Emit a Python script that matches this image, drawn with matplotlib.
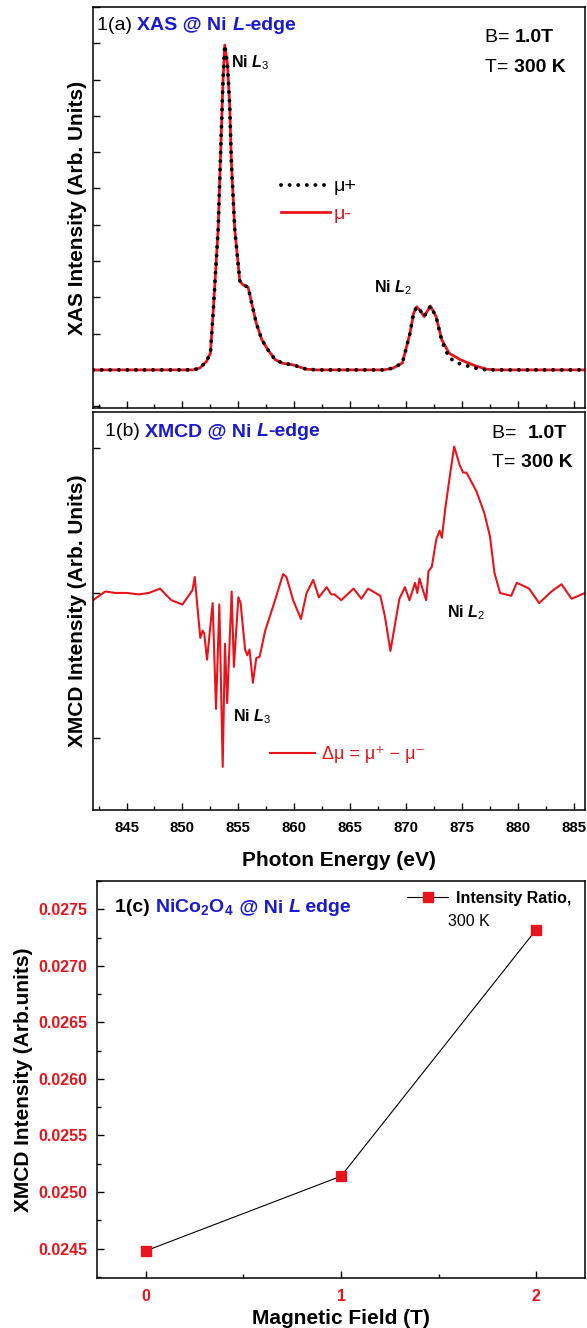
import matplotlib
matplotlib.use('Agg')
import matplotlib.pyplot as plt
from matplotlib.offsetbox import TextArea, HPacker, AnchoredOffsetbox
from matplotlib.ticker import MultipleLocator, FixedLocator, NullFormatter

plt.rcParams['font.family'] = ['Liberation Sans', 'DejaVu Sans']
plt.rcParams['mathtext.fontset'] = 'custom'
plt.rcParams['mathtext.rm'] = 'Liberation Sans'
plt.rcParams['mathtext.it'] = 'Liberation Sans:italic:bold'
plt.rcParams['mathtext.bf'] = 'Liberation Sans:bold'

RED = '#e8141c'
BLUE = '#1a1ad2'

# ---------------- data: panel (a) XAS ----------------
xas_energy = [842.0, 843.0, 844.0, 845.0, 846.0, 847.0, 848.0, 849.0, 850.0, 850.96,
              851.55, 852.14, 852.5, 852.74, 853.19, 853.48, 853.63, 853.78, 854.02, 854.23,
              854.38, 854.68, 855.13, 855.4, 855.87, 856.6, 857.1, 857.65, 858.3, 858.99,
              859.88, 861.07, 862.0, 863.0, 864.0, 865.0, 866.0, 867.0, 868.0, 868.84,
              869.67, 870.34, 870.68, 870.95, 871.3, 871.61, 871.9, 872.18, 872.68, 873.19,
              873.85, 874.86, 876.2, 877.2, 878.0, 879.0, 880.0, 881.0, 882.0, 883.0,
              884.0, 885.0, 886.0]
xas_mu_minus = [0.0, 0.0, 0.0, 0.0, 0.0, 0.0, 0.0, 0.0, 0.0, 0.0,
                0.05, 0.23, 0.46, 1.56, 3.86, 6.61, 7.99, 8.95, 8.45, 7.25,
                5.69, 3.86, 2.45, 2.35, 2.28, 1.29, 0.83, 0.55, 0.28, 0.18,
                0.14, 0.02, 0.0, 0.0, 0.0, 0.0, 0.0, 0.0, 0.0, 0.05,
                0.19, 1.0, 1.57, 1.74, 1.62, 1.47, 1.62, 1.76, 1.47, 0.83,
                0.46, 0.28, 0.11, 0.02, 0.0, 0.0, 0.0, 0.0, 0.0, 0.0,
                0.0, 0.0, 0.0]
xas_mu_plus = [0.0, 0.0, 0.0, 0.0, 0.0, 0.0, 0.0, 0.0, 0.0, 0.0,
               0.05, 0.23, 0.46, 1.56, 3.86, 6.61, 7.99, 8.95, 8.45, 7.25,
               5.69, 3.86, 2.45, 2.35, 2.28, 1.29, 0.83, 0.55, 0.28, 0.18,
               0.14, 0.02, 0.0, 0.0, 0.0, 0.0, 0.0, 0.0, 0.0, 0.05,
               0.19, 1.0, 1.57, 1.74, 1.62, 1.47, 1.62, 1.76, 1.47, 0.80,
               0.33, 0.16, 0.05, 0.0, 0.0, 0.0, 0.0, 0.0, 0.0, 0.0,
               0.0, 0.0, 0.0]

# ---------------- data: panel (b) XMCD ----------------
xmcd_energy = [842.0, 843.1, 844.0, 845.0, 846.1, 847.0, 848.0, 849.0, 850.0, 850.9,
               851.1, 851.4, 851.6, 851.8, 851.95, 852.2, 852.7, 853.0, 853.3, 853.6,
               853.8, 854.0, 854.4, 854.6, 855.0, 855.2, 855.6, 855.8, 856.0, 856.3,
               856.6, 856.9, 857.4, 858.2, 859.0, 859.3, 859.9, 860.6, 861.1, 861.7,
               862.2, 862.9, 863.3, 863.6, 864.2, 865.3, 866.0, 866.6, 867.7, 868.1,
               868.6, 869.4, 869.9, 870.3, 870.8, 871.0, 871.2, 871.5, 871.8, 872.0,
               872.3, 872.7, 873.0, 873.2, 873.5, 873.9, 874.3, 874.8, 875.1, 875.4,
               876.3, 877.0, 877.5, 877.9, 878.4, 879.4, 879.9, 881.0, 881.9, 883.0,
               883.9, 884.8, 886.0]
xmcd_signal = [-0.05, 0.01, 0.0, 0.0, -0.01, 0.0, 0.03, -0.05, -0.08, 0.02,
               0.11, -0.15, -0.31, -0.26, -0.28, -0.46, -0.07, -0.80, -0.08, -1.20,
               -0.35, -0.76, 0.01, -0.51, -0.03, -0.07, -0.39, -0.43, -0.39, -0.62,
               -0.45, -0.44, -0.26, -0.07, 0.13, 0.11, -0.05, -0.18, 0.0, 0.09,
               -0.03, 0.04, -0.01, -0.01, -0.05, 0.03, -0.04, 0.03, -0.02, -0.16,
               -0.40, -0.04, 0.04, -0.05, 0.07, 0.0, 0.10, 0.02, -0.05, 0.15,
               0.18, 0.37, 0.43, 0.38, 0.58, 0.80, 1.01, 0.88, 0.83, 0.83,
               0.70, 0.55, 0.39, 0.14, 0.0, -0.02, 0.07, 0.03, -0.07, 0.01,
               0.06, -0.04, 0.0]

# ---------------- data: panel (c) ----------------
field_T = [0, 1, 2]
ratio = [0.02448, 0.02514, 0.02732]
field_ticks = [0, 1, 2]
ratio_ticks = [0.0245, 0.0250, 0.0255, 0.0260, 0.0265, 0.0270, 0.0275]

W, H = 587, 1328
fig = plt.figure(figsize=(W / 100, H / 100), dpi=100)

def fr(l, t, r, b):
    return [l / W, 1 - b / H, (r - l) / W, (b - t) / H]

axa = fig.add_axes(fr(93, 7, 585, 408))
axb = fig.add_axes(fr(93, 412, 585, 810))
axc = fig.add_axes(fr(97, 881, 585, 1278))

for ax in (axa, axb, axc):
    for s in ax.spines.values():
        s.set_linewidth(1.1)
    ax.tick_params(which='both', direction='in', top=False, right=False, width=1.0)
    ax.tick_params(which='major', length=5)
    ax.tick_params(which='minor', length=3)


def rich(ax, parts, xy, loc='center left', size=14):
    boxes = []
    for txt, color, weight, style in parts:
        boxes.append(TextArea(txt, textprops=dict(color=color, fontweight=weight,
                                                  fontstyle=style, fontsize=size)))
    pack = HPacker(children=boxes, align='baseline', pad=0, sep=0)
    ab = AnchoredOffsetbox(loc=loc, child=pack, bbox_to_anchor=xy,
                           bbox_transform=ax.transAxes, frameon=False,
                           pad=0, borderpad=0)
    ax.add_artist(ab)

XLIM = (842.0, 886.0)

# ---------------- panel (a) ----------------
l_minus, = axa.plot(xas_energy, xas_mu_minus, color=RED, lw=2.0, zorder=2)
l_plus, = axa.plot(xas_energy, xas_mu_plus, color='black', lw=2.8,
                   ls=(0, (0.01, 2.2)), dash_capstyle='round', zorder=3)
axa.set_xlim(*XLIM)
axa.set_ylim(-1.05, 10.0)
axa.xaxis.set_major_locator(MultipleLocator(5))
axa.xaxis.set_minor_locator(MultipleLocator(2.5))
axa.yaxis.set_major_locator(MultipleLocator(1))
axa.xaxis.set_major_formatter(NullFormatter())
axa.yaxis.set_major_formatter(NullFormatter())
axa.set_ylabel('XAS Intensity (Arb. Units)', fontsize=15, fontweight='bold')
axa.yaxis.set_label_coords(-0.013, 0.5)
leg = axa.legend(handles=[l_plus, l_minus], labels=['μ+', 'μ-'], loc='upper left',
                 bbox_to_anchor=(0.382, 0.574), frameon=False, fontsize=14,
                 handlelength=2.5, handletextpad=0.2, labelspacing=0.5,
                 borderpad=0, borderaxespad=0)
leg.get_texts()[1].set_color(RED)

rich(axa, [('1(a) ', 'black', 'normal', 'normal'), ('XAS @ Ni ', BLUE, 'bold', 'normal'),
           ('L', BLUE, 'bold', 'italic'), ('-edge', BLUE, 'bold', 'normal')], (0.008, 0.955))
rich(axa, [('B= ', 'black', 'normal', 'normal'), ('1.0T', 'black', 'bold', 'normal')], (0.797, 0.925))
rich(axa, [('T= ', 'black', 'normal', 'normal'), ('300 K', 'black', 'bold', 'normal')], (0.797, 0.848))
axa.text(854.35, 8.48, r'$\mathbf{Ni}\ \mathit{L}_{\mathit{3}}$', fontsize=11.5, ha='left', va='center')
axa.text(867.1, 2.26, r'$\mathbf{Ni}\ \mathit{L}_{\mathit{2}}$', fontsize=11.5, ha='left', va='center')

# ---------------- panel (b) ----------------
l_dm, = axb.plot(xmcd_energy, xmcd_signal, color=RED, lw=1.5)
axb.set_xlim(*XLIM)
axb.set_ylim(-1.497, 1.248)
axb.xaxis.set_major_locator(MultipleLocator(5))
axb.xaxis.set_minor_locator(MultipleLocator(2.5))
axb.yaxis.set_major_locator(FixedLocator([-1, 0, 1]))
axb.yaxis.set_major_formatter(NullFormatter())
axb.tick_params(axis='x', labelsize=10.8, pad=8)
for t in axb.get_xticklabels():
    t.set_fontweight('bold')
axb.set_xlabel('Photon Energy (eV)', fontsize=15, fontweight='bold')
axb.xaxis.set_label_coords(0.5, -0.103)
axb.set_ylabel('XMCD Intensity (Arb. Units)', fontsize=15, fontweight='bold')
axb.yaxis.set_label_coords(-0.013, 0.5)
legb = axb.legend(handles=[l_dm], labels=['Δμ = μ⁺ − μ⁻'], loc='upper left',
                  bbox_to_anchor=(0.36, 0.16), frameon=False, fontsize=13,
                  handlelength=2.5, handletextpad=0.4, borderpad=0, borderaxespad=0)
legb.get_texts()[0].set_color(RED)
rich(axb, [('1(b) ', 'black', 'normal', 'normal'), ('XMCD @ Ni ', BLUE, 'bold', 'normal'),
           ('L', BLUE, 'bold', 'italic'), ('-edge', BLUE, 'bold', 'normal')], (0.024, 0.950))
rich(axb, [('B=  ', 'black', 'normal', 'normal'), ('1.0T', 'black', 'bold', 'normal')], (0.811, 0.947))
rich(axb, [('T= ', 'black', 'normal', 'normal'), ('300 K', 'black', 'bold', 'normal')], (0.811, 0.872))
axb.text(854.5, -0.855, r'$\mathbf{Ni}\ \mathit{L}_{\mathit{3}}$', fontsize=11.5, ha='left', va='center')
axb.text(873.7, -0.138, r'$\mathbf{Ni}\ \mathit{L}_{\mathit{2}}$', fontsize=11.5, ha='left', va='center')

# ---------------- panel (c) ----------------
l_c, = axc.plot(field_T, ratio, color='black', lw=0.8, marker='s', markersize=6.5,
                markerfacecolor=RED, markeredgecolor=RED)
axc.set_xlim(-0.25, 2.25)
axc.set_ylim(0.02424, 0.02775)
axc.xaxis.set_major_locator(FixedLocator(field_ticks))
axc.xaxis.set_minor_locator(MultipleLocator(0.5))
axc.yaxis.set_major_locator(FixedLocator(ratio_ticks))
axc.yaxis.set_minor_locator(MultipleLocator(0.00025))
axc.set_yticklabels(['%.4f' % v for v in ratio_ticks])
axc.tick_params(axis='both', labelsize=11.5, labelcolor=RED)
axc.tick_params(axis='y', pad=7)
axc.tick_params(axis='x', pad=8)
for t in axc.get_xticklabels() + axc.get_yticklabels():
    t.set_fontweight('bold')
axc.set_xlabel('Magnetic Field (T)', fontsize=15, fontweight='bold')
axc.xaxis.set_label_coords(0.5, -0.077)
axc.set_ylabel('XMCD Intensity (Arb.units)', fontsize=15, fontweight='bold')
axc.yaxis.set_label_coords(-0.131, 0.5)
legc = axc.legend(handles=[l_c], labels=['Intensity Ratio,'], loc='upper left',
                  bbox_to_anchor=(0.635, 0.975), frameon=False,
                  prop=dict(weight='bold', size=11.5),
                  handlelength=2.6, handletextpad=0.5, borderpad=0, borderaxespad=0)
axc.text(0.719, 0.897, '300 K', transform=axc.transAxes, fontsize=11.5, ha='left', va='center')
rich(axc, [('1(c) ', 'black', 'bold', 'normal'), (r'$\mathbf{NiCo_2O_4}$', BLUE, 'bold', 'normal'),
           (' @ Ni ', BLUE, 'bold', 'normal'), ('L', BLUE, 'bold', 'italic'),
           (' edge', BLUE, 'bold', 'normal')], (0.037, 0.934))

fig.savefig('out.png', dpi=100)
